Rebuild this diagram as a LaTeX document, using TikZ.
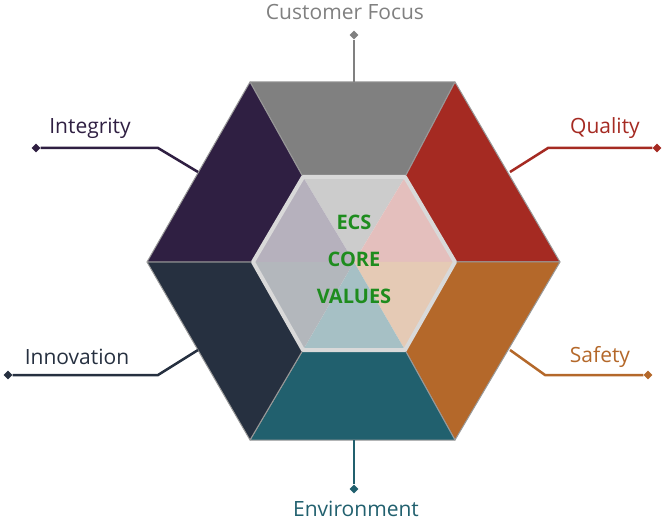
\documentclass[tikz,border=0pt]{standalone}
\usepackage{fontspec}
\setmainfont{Open Sans}
\usetikzlibrary{shapes.geometric, positioning}
\definecolor{cfocus}{HTML}{808080}
\definecolor{cquality}{HTML}{A52A22}
\definecolor{csafety}{HTML}{B4682A}
\definecolor{cenv}{HTML}{21606E}
\definecolor{cinno}{HTML}{263040}
\definecolor{cinteg}{HTML}{2F1F42}
\definecolor{cgreen}{HTML}{1E8C1E}
\tikzstyle{label} = [font=\fontsize{21}{24}\selectfont, inner sep=0pt]
\tikzstyle{tip} = [diamond, minimum size=9pt, inner sep=0pt]
\tikzstyle{lead} = [line width=2.5pt]
\tikzstyle{face} = [draw=black!40, line width=1pt, line join=round]

\begin{document}
\begin{tikzpicture}[x=1pt, y=-1pt]
\useasboundingbox (0,0) rectangle (664,521);
% hexagon corners
\coordinate (o1) at (250,82);  \coordinate (o2) at (455,82);
\coordinate (o3) at (560,262); \coordinate (o4) at (455,440);
\coordinate (o5) at (250,440); \coordinate (o6) at (147,262);
\coordinate (i1) at (303,177); \coordinate (i2) at (405,177);
\coordinate (i3) at (455,262); \coordinate (i4) at (405,350);
\coordinate (i5) at (303,350); \coordinate (i6) at (253,262);

\fill [cfocus, face] (o1) -- (o2) -- (i2) -- (i1) -- cycle;
\fill [cquality, face] (o2) -- (o3) -- (i3) -- (i2) -- cycle;
\fill [csafety, face] (o3) -- (o4) -- (i4) -- (i3) -- cycle;
\fill [cenv, face] (o4) -- (o5) -- (i5) -- (i4) -- cycle;
\fill [cinno, face] (o5) -- (o6) -- (i6) -- (i5) -- cycle;
\fill [cinteg, face] (o6) -- (o1) -- (i1) -- (i6) -- cycle;

% centre
\fill [cfocus!40!white] (i1) -- (i2) -- (354,262) -- cycle;
\fill [cquality!30!white] (i2) -- (i3) -- (354,262) -- cycle;
\fill [csafety!35!white] (i3) -- (i4) -- (354,262) -- cycle;
\fill [cenv!40!white] (i4) -- (i5) -- (354,262) -- cycle;
\fill [cinno!35!white] (i5) -- (i6) -- (354,262) -- cycle;
\fill [cinteg!35!white] (i6) -- (i1) -- (354,262) -- cycle;
\draw [white!85!black, line width=4pt, line join=round] (i1) -- (i2) -- (i3) -- (i4) -- (i5) -- (i6) -- cycle;
\node (core) [align=center, text=cgreen, font=\bfseries\fontsize{20}{37}\selectfont] at (354,259) {ECS\\CORE\\VALUES};

% leads and labels
\node (tfocus) [tip, fill=cfocus] at (354,35) {};
\node (tquality) [tip, fill=cquality] at (657,148) {};
\node (tsafety) [tip, fill=csafety] at (648,375) {};
\node (tenv) [tip, fill=cenv] at (354,489) {};
\node (tinno) [tip, fill=cinno] at (8,375) {};
\node (tinteg) [tip, fill=cinteg] at (36,148) {};

\coordinate (bquality) at (548,148);
\coordinate (bsafety) at (545,375);
\coordinate (binno) at (158,375);
\coordinate (binteg) at (158,148);

\draw [lead, cfocus] (354,82) -- (tfocus);
\draw [lead, cquality] (510,172) -- (bquality) -- (tquality);
\draw [lead, csafety] (510,350) -- (bsafety) -- (tsafety);
\draw [lead, cenv] (354,440) -- (tenv);
\draw [lead, cinno] (198,350) -- (binno) -- (tinno);
\draw [lead, cinteg] (198,172) -- (binteg) -- (tinteg);

\node (lfocus) [label, text=cfocus] at (345,12) {Customer Focus};
\node (lquality) [label, text=cquality] at (605,128) {Quality};
\node (lsafety) [label, text=csafety] at (600,357) {Safety};
\node (lenv) [label, text=cenv] at (356,509) {Environment};
\node (linno) [label, text=cinno] at (77,357) {Innovation};
\node (linteg) [label, text=cinteg] at (90,128) {Integrity};
\end{tikzpicture}
\end{document}
